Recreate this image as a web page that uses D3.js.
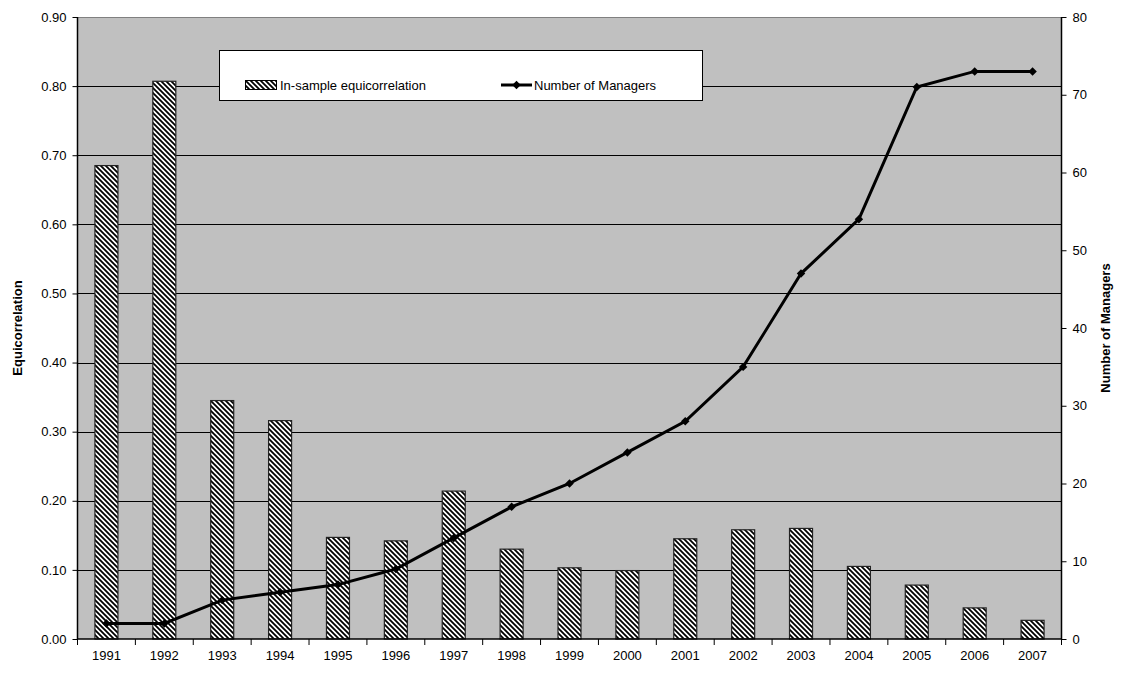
<!DOCTYPE html>
<html><head><meta charset="utf-8">
<script src="https://d3js.org/d3.v7.min.js"></script>
<style>
  body { margin:0; background:#fff; }
  text { font-family: "Liberation Sans", Arial, sans-serif; }
</style>
</head><body>
<svg width="1123" height="675"></svg>
<script>
// data
var years = ["1991","1992","1993","1994","1995","1996","1997","1998","1999","2000",
             "2001","2002","2003","2004","2005","2006","2007"];
var equicorr = [0.685,0.807,0.345,0.316,0.147,0.142,0.214,0.130,0.103,0.099,
                0.145,0.158,0.160,0.105,0.078,0.045,0.027];
var managers = [2,2,5,6,7,9,13,17,20,24,28,35,47,54,71,73,73];
var leftTicks = [0,0.1,0.2,0.3,0.4,0.5,0.6,0.7,0.8,0.9];
var rightTicks = [0,10,20,30,40,50,60,70,80];

var svg = d3.select("svg");
var pL = 77.5, pR = 1061.5, pT = 17, pB = 639;

var x = d3.scaleBand().domain(years).range([pL, pR]);
var yL = d3.scaleLinear().domain([0, 0.9]).range([pB, pT]);
var yR = d3.scaleLinear().domain([0, 80]).range([pB, pT]);

// hatch pattern
var defs = svg.append("defs");
var pat = defs.append("pattern")
    .attr("id", "hatch")
    .attr("patternUnits", "userSpaceOnUse")
    .attr("width", 5).attr("height", 5);
pat.append("rect").attr("width", 5).attr("height", 5).attr("fill", "#fff");
pat.append("path")
    .attr("d", "M0,0L5,5M-2.5,2.5L2.5,7.5M2.5,-2.5L7.5,2.5")
    .attr("stroke", "#000").attr("stroke-width", 1.8);

// plot background
svg.append("rect")
    .attr("x", pL).attr("y", pT)
    .attr("width", pR - pL).attr("height", pB - pT)
    .attr("fill", "#c0c0c0");

// gridlines
svg.append("g").selectAll("line")
    .data(leftTicks.slice(1))
    .enter().append("line")
    .attr("x1", pL).attr("x2", pR)
    .attr("y1", function(d){ return Math.round(yL(d)) + 0.5; })
    .attr("y2", function(d){ return Math.round(yL(d)) + 0.5; })
    .attr("stroke", "#000").attr("stroke-width", 1);

// top border of plot
svg.append("line")
    .attr("x1", pL).attr("x2", pR).attr("y1", pT + 0.5).attr("y2", pT + 0.5)
    .attr("stroke", "#808080");

// bars
var bw = 23;
svg.append("g").selectAll("rect")
    .data(equicorr)
    .enter().append("rect")
    .attr("x", function(d, i){ return x(years[i]) + x.bandwidth()/2 - bw/2; })
    .attr("y", function(d){ return yL(d); })
    .attr("width", bw)
    .attr("height", function(d){ return pB - yL(d); })
    .attr("fill", "url(#hatch)")
    .attr("stroke", "#222").attr("stroke-width", 1.2);

// line
var line = d3.line()
    .x(function(d, i){ return x(years[i]) + x.bandwidth()/2; })
    .y(function(d){ return yR(d); });
svg.append("path")
    .datum(managers)
    .attr("d", line)
    .attr("fill", "none")
    .attr("stroke", "#000").attr("stroke-width", 3);

var diamond = d3.symbol().type(d3.symbolSquare).size(36);
svg.append("g").selectAll("path")
    .data(managers)
    .enter().append("path")
    .attr("d", diamond)
    .attr("transform", function(d, i){
        return "translate(" + (x(years[i]) + x.bandwidth()/2) + "," + yR(d) + ") rotate(45)";
    })
    .attr("fill", "#000");

// axes
var axL = svg.append("g")
    .attr("transform", "translate(" + pL + ",0)")
    .call(d3.axisLeft(yL).tickValues(leftTicks).tickFormat(d3.format(".2f")).tickSize(5).tickPadding(6));
var axR = svg.append("g")
    .attr("transform", "translate(" + pR + ",0)")
    .call(d3.axisRight(yR).tickValues(rightTicks).tickSize(5).tickPadding(6));
var axB = svg.append("g")
    .attr("transform", "translate(0," + pB + ")")
    .call(d3.axisBottom(x).tickSize(0).tickPadding(12));

[axL, axR, axB].forEach(function(a){
    a.select(".domain").attr("stroke", "#000").attr("stroke-width", 1.5);
    a.selectAll(".tick line").attr("stroke", "#000");
    a.selectAll("text").attr("font-size", 13).attr("fill", "#000")
        .attr("font-family", "'Liberation Sans', Arial, sans-serif");
});
axL.select(".domain").attr("d", "M0," + pT + "V" + pB);
axR.select(".domain").attr("d", "M0," + pT + "V" + pB);
axB.select(".domain").attr("d", "M" + pL + ",0H" + pR);

// x tick marks between categories
svg.append("g").selectAll("line")
    .data(d3.range(years.length + 1))
    .enter().append("line")
    .attr("x1", function(i){ return pL + i * x.step(); })
    .attr("x2", function(i){ return pL + i * x.step(); })
    .attr("y1", pB).attr("y2", pB + 6)
    .attr("stroke", "#000");

// axis titles
svg.append("text")
    .attr("transform", "translate(22," + ((pT + pB)/2) + ") rotate(-90)")
    .attr("text-anchor", "middle")
    .attr("font-size", 13).attr("font-weight", "bold")
    .text("Equicorrelation");
svg.append("text")
    .attr("transform", "translate(1110," + ((pT + pB)/2) + ") rotate(-90)")
    .attr("text-anchor", "middle")
    .attr("font-size", 13).attr("font-weight", "bold")
    .text("Number of Managers");

// legend
var lg = svg.append("g");
lg.append("rect")
    .attr("x", 219.5).attr("y", 50.5).attr("width", 483).attr("height", 50)
    .attr("fill", "#fff").attr("stroke", "#000").attr("stroke-width", 1);
lg.append("rect")
    .attr("x", 245.5).attr("y", 80.5).attr("width", 31).attr("height", 9)
    .attr("fill", "url(#hatch)").attr("stroke", "#000");
lg.append("text").attr("x", 280).attr("y", 90).attr("font-size", 13)
    .text("In-sample equicorrelation");
lg.append("line")
    .attr("x1", 501).attr("x2", 532).attr("y1", 85).attr("y2", 85)
    .attr("stroke", "#000").attr("stroke-width", 3);
lg.append("path").attr("d", diamond)
    .attr("transform", "translate(516.5,85) rotate(45)").attr("fill", "#000");
lg.append("text").attr("x", 534).attr("y", 90).attr("font-size", 13)
    .text("Number of Managers");
</script>
</body></html>
